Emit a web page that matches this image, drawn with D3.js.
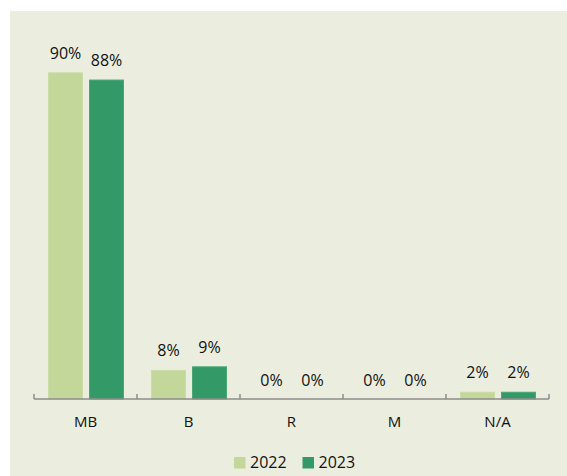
<!DOCTYPE html>
<html>
<head>
<meta charset="utf-8">
<script src="https://cdn.jsdelivr.net/npm/d3@7"></script>
<style>
  html, body { margin: 0; padding: 0; background: #ffffff; }
  svg { display: block; }
  text { font-family: "Open Sans", "Noto Sans", sans-serif; fill: #111111; }
</style>
</head>
<body>
<svg id="chart" width="567" height="476"></svg>
<script>
const categories = ["MB", "B", "R", "M", "N/A"];
const seriesNames = ["2022", "2023"];
const values2022 = [90, 8, 0, 0, 2];
const values2023 = [88, 9, 0, 0, 2];
const seriesColors = ["#C4D79B", "#339966"];
const seriesStrokes = ["#cbdca6", "#4aa877"];

const seriesValues = [values2022, values2023];
const svg = d3.select("#chart");

// panel background
svg.append("rect").attr("x", 10).attr("y", 11).attr("width", 557).attr("height", 465)
  .attr("fill", "#EBEEDF");

const x = d3.scaleBand().domain(categories).range([34, 549]).paddingInner(0).paddingOuter(0);
const xs = d3.scaleBand().domain(seriesNames).range([14, 90]).paddingInner(6 / 41).paddingOuter(0);
const y = d3.scaleLinear().domain([0, 100]).range([399, 36]);

const data = categories.map((c, i) => ({
  cat: c,
  vals: seriesNames.map((s, j) => ({ s, j, v: seriesValues[j][i] }))
}));

const groups = svg.append("g").selectAll("g").data(data).join("g")
  .attr("transform", d => `translate(${x(d.cat)},0)`);

groups.selectAll("rect").data(d => d.vals.filter(e => e.v > 0)).join("rect")
  .attr("x", e => xs(e.s) + 0.5)
  .attr("y", e => y(e.v) + 0.5)
  .attr("width", xs.bandwidth() - 1)
  .attr("height", e => y(0) - y(e.v) - 0.5)
  .attr("fill", e => seriesColors[e.j])
  .attr("stroke", e => seriesStrokes[e.j])
  .attr("stroke-width", 1);

groups.selectAll("text.val").data(d => d.vals).join("text")
  .attr("class", "val")
  .attr("x", e => xs(e.s) + xs.bandwidth() / 2)
  .attr("y", e => y(e.v) - 13.5)
  .attr("text-anchor", "middle")
  .attr("font-size", 16)
  .text(e => e.v + "%");

// axis line with boundary ticks
const axisG = svg.append("g");
const r = x.range();
axisG.append("line").attr("x1", r[0]).attr("x2", r[1]).attr("y1", y(0)).attr("y2", y(0))
  .attr("stroke", "#8c8c8c").attr("stroke-width", 1.5);
const bounds = categories.map(c => x(c)).concat([r[1]]);
axisG.selectAll("line.tick").data(bounds).join("line")
  .attr("class", "tick")
  .attr("x1", d => d).attr("x2", d => d)
  .attr("y1", y(0)).attr("y2", y(0) - 5)
  .attr("stroke", "#8c8c8c").attr("stroke-width", 1.5);

svg.append("g").selectAll("text").data(categories).join("text")
  .attr("x", c => x(c) + x.bandwidth() / 2)
  .attr("y", 427)
  .attr("text-anchor", "middle")
  .attr("font-size", 15)
  .text(c => c);

// legend
const legendX = [234, 302.5];
const lg = svg.append("g").selectAll("g").data(seriesNames).join("g")
  .attr("transform", (s, i) => `translate(${legendX[i]},0)`);
lg.append("rect").attr("x", 0).attr("y", 457).attr("width", 11.5).attr("height", 11.5)
  .attr("fill", (s, i) => seriesColors[i]);
lg.append("text").attr("x", 16).attr("y", 468).attr("font-size", 16).text(s => s);
</script>
</body>
</html>
